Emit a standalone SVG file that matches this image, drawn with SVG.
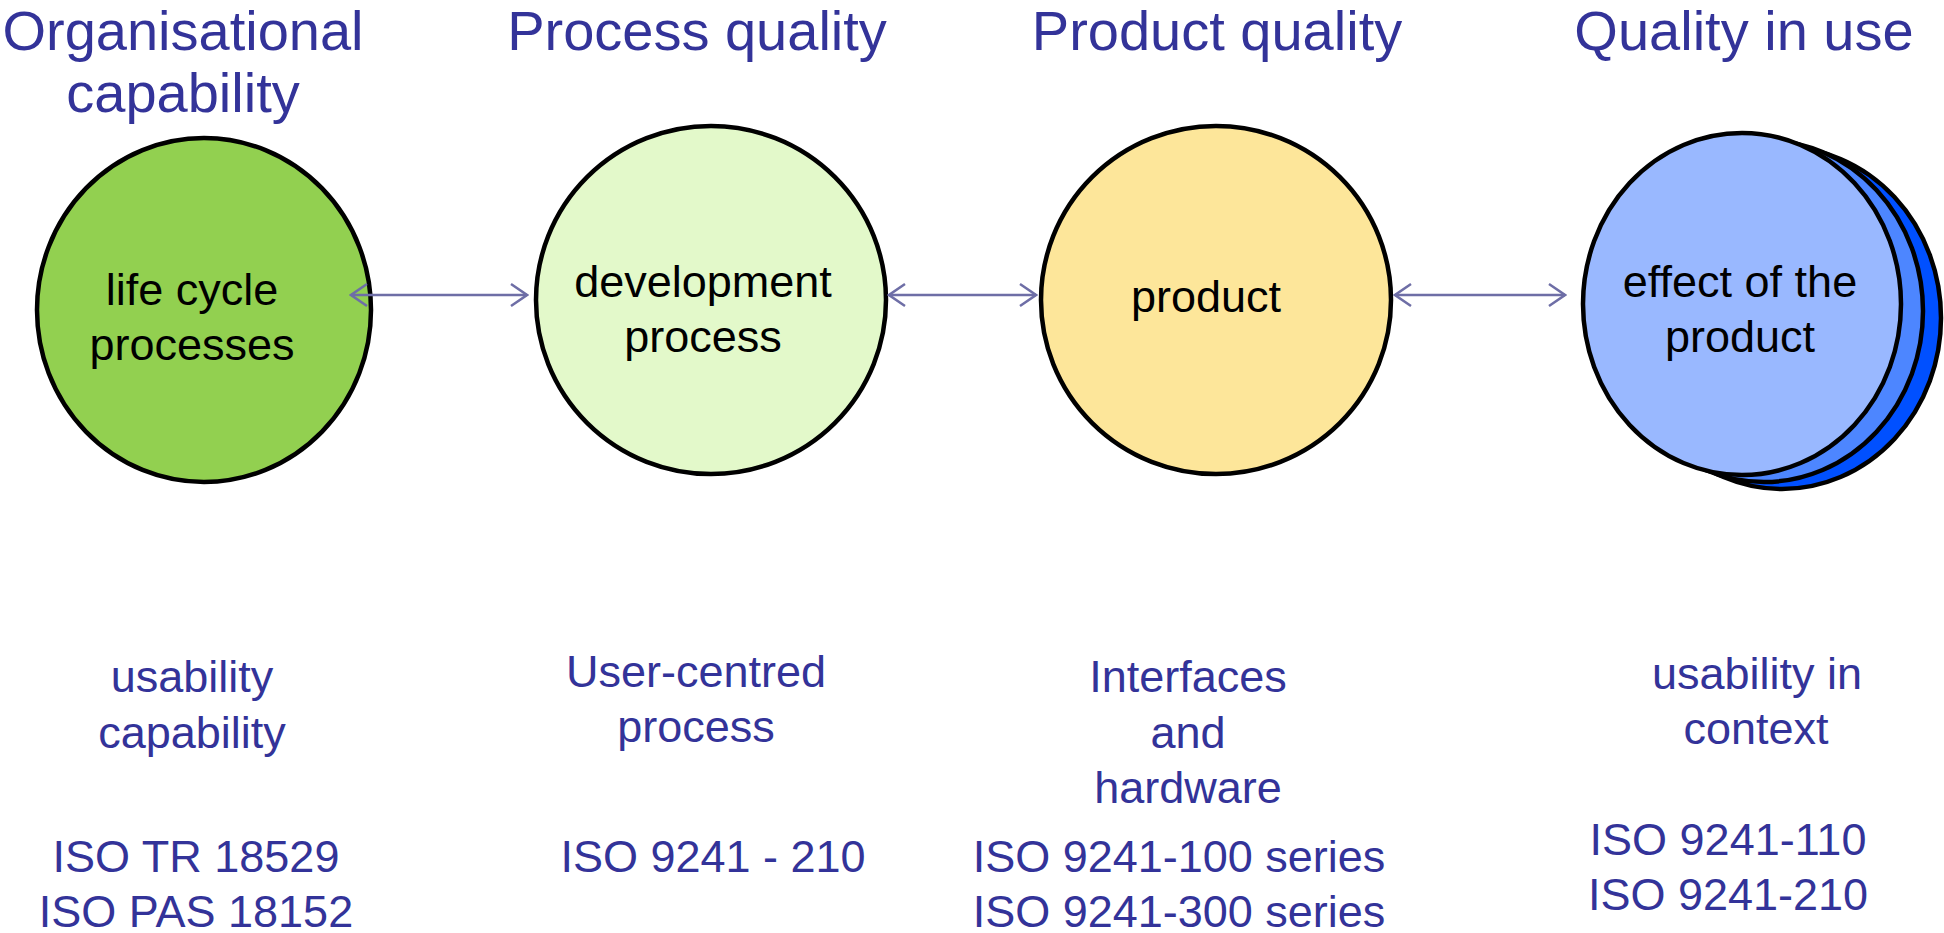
<svg xmlns="http://www.w3.org/2000/svg" width="1944" height="933" viewBox="0 0 1944 933">
  <style>
    .heading { font-family: "Liberation Sans", Arial, sans-serif; font-size: 56px; fill: #333399; text-anchor: middle; }
    .note { font-family: "Liberation Sans", Arial, sans-serif; font-size: 45px; fill: #333399; text-anchor: middle; }
    .inner { font-family: "Liberation Sans", Arial, sans-serif; font-size: 45px; fill: #000000; text-anchor: middle; }
    .disc { stroke: #000000; stroke-width: 4.5; }
    .link { stroke: #6E6EA6; stroke-width: 2.5; fill: none; marker-start: url(#chev); marker-end: url(#chev); }
  </style>
  <defs>
    <marker id="chev" viewBox="-20 -14 22 28" refX="0" refY="0" markerWidth="22" markerHeight="28" markerUnits="userSpaceOnUse" orient="auto-start-reverse">
      <path d="M-16,-11 L0,0 L-16,11" fill="none" stroke="#6E6EA6" stroke-width="2.5"/>
    </marker>
  </defs>

  <rect width="1944" height="933" fill="#ffffff"/>

  <!-- column headings -->
  <g id="headings">
    <text class="heading" x="183" y="50">Organisational</text>
    <text class="heading" x="183" y="112">capability</text>
    <text class="heading" x="697" y="50">Process quality</text>
    <text class="heading" x="1217" y="50">Product quality</text>
    <text class="heading" x="1744" y="50">Quality in use</text>
  </g>

  <g id="node-lifecycle">
    <ellipse class="disc" cx="204" cy="310" rx="167" ry="172" fill="#92D050"/>
    <text class="inner" x="192" y="305">life cycle</text>
    <text class="inner" x="192" y="360">processes</text>
  </g>

  <g id="node-development">
    <ellipse class="disc" cx="711" cy="300" rx="175" ry="174" fill="#E3F9CA"/>
    <text class="inner" x="703" y="297">development</text>
    <text class="inner" x="703" y="352">process</text>
  </g>

  <g id="node-product">
    <ellipse class="disc" cx="1216" cy="300" rx="175" ry="174" fill="#FDE69A"/>
    <text class="inner" x="1206" y="312">product</text>
  </g>

  <g id="node-effect">
    <ellipse class="disc" cx="1782" cy="318" rx="159" ry="171" fill="#0050FF"/>
    <ellipse class="disc" cx="1764" cy="311" rx="159" ry="171" fill="#4D86FF"/>
    <ellipse class="disc" cx="1742" cy="304" rx="159" ry="171" fill="#99B8FF"/>
    <text class="inner" x="1740" y="297">effect of the</text>
    <text class="inner" x="1740" y="352">product</text>
  </g>

  <!-- connectors between the stages, drawn over the discs -->
  <g id="connectors">
    <line class="link" x1="351" y1="295" x2="527" y2="295"/>
    <line class="link" x1="889" y1="295" x2="1036" y2="295"/>
    <line class="link" x1="1395" y1="295" x2="1565" y2="295"/>
  </g>

  <!-- notes and standards under each stage -->
  <g id="notes-organisational">
    <text class="note" x="192" y="692">usability</text>
    <text class="note" x="192" y="748">capability</text>
    <text class="note" x="196" y="872">ISO TR 18529</text>
    <text class="note" x="196" y="927">ISO PAS 18152</text>
  </g>
  <g id="notes-process">
    <text class="note" x="696" y="687">User-centred</text>
    <text class="note" x="696" y="742">process</text>
    <text class="note" x="713" y="872">ISO 9241 - 210</text>
  </g>
  <g id="notes-product">
    <text class="note" x="1188" y="692">Interfaces</text>
    <text class="note" x="1188" y="748">and</text>
    <text class="note" x="1188" y="803">hardware</text>
    <text class="note" x="1179" y="872">ISO 9241-100 series</text>
    <text class="note" x="1179" y="927">ISO 9241-300 series</text>
  </g>
  <g id="notes-use">
    <text class="note" x="1757" y="689">usability in</text>
    <text class="note" x="1756" y="744">context</text>
    <text class="note" x="1728" y="855">ISO 9241-110</text>
    <text class="note" x="1728" y="910">ISO 9241-210</text>
  </g>
</svg>
